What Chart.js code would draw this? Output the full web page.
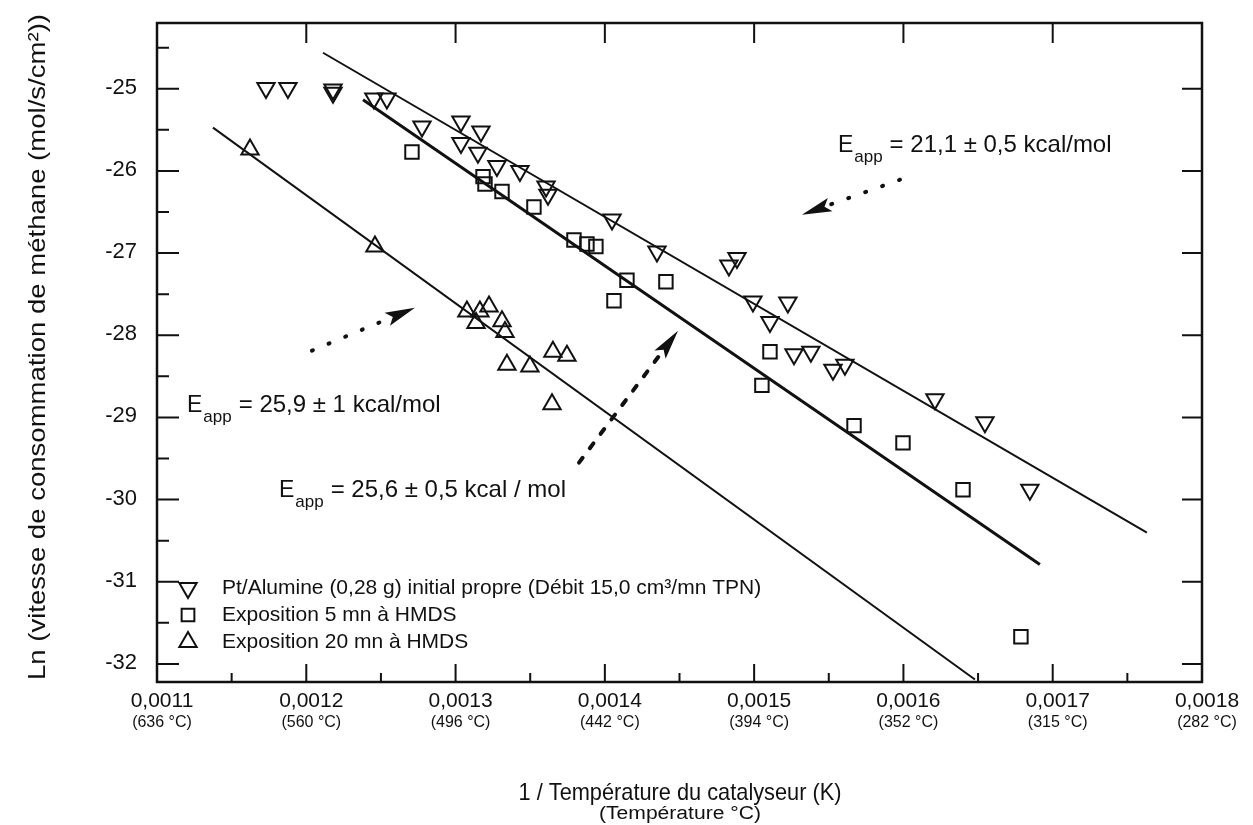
<!DOCTYPE html>
<html lang="fr">
<head>
    <meta charset="UTF-8">
    <title>Vitesse de consommation de méthane - Arrhenius</title>
    <script src="https://cdn.jsdelivr.net/npm/chart.js@4.4.0/dist/chart.umd.min.js"></script>
    <style>
        html, body { margin: 0; padding: 0; background: #fff; }
        #wrap { width: 1253px; height: 825px; }
    </style>
</head>
<body>
<div id="wrap"><canvas id="chart" width="1253" height="825"></canvas></div>
<script>
// Pt/Alumine initial propre (triangles pointe en bas)
const initX = [0.001173, 0.0011877, 0.0012179, 0.0012179, 0.0012453, 0.001254, 0.0012775, 0.0013036,
    0.001317, 0.0013036, 0.001315, 0.0013277, 0.0013431, 0.0013606, 0.0013619, 0.0014048, 0.0014349,
    0.0014831, 0.0014885, 0.0014992, 0.0015226, 0.0015106, 0.0015267, 0.001538, 0.0015528, 0.0015608,
    0.0016211, 0.0016546, 0.0016847];
const initY = [-24.99, -24.99, -25.01, -25.05, -25.12, -25.12, -25.46, -25.40,
    -25.52, -25.66, -25.78, -25.94, -26.00, -26.19, -26.29, -26.59, -26.98,
    -27.15, -27.06, -27.59, -27.60, -27.84, -28.23, -28.20, -28.42, -28.36,
    -28.78, -29.06, -29.88];

// Exposition 5 mn à HMDS (carrés)
const exp5X = [0.0012708, 0.0013184, 0.0013197, 0.0013311, 0.0013525, 0.0013793, 0.001388, 0.001394,
    0.0014148, 0.0014409, 0.0014061, 0.0015106, 0.0015052, 0.0015669, 0.0015997, 0.0016399, 0.0016787];
const exp5Y = [-25.77, -26.07, -26.16, -26.25, -26.44, -26.84, -26.89, -26.92,
    -27.33, -27.35, -27.58, -28.20, -28.61, -29.10, -29.31, -29.88, -31.67];

// Exposition 20 mn à HMDS (triangles pointe en haut)
const exp20X = [0.0011623, 0.001246, 0.0013076, 0.0013137, 0.0013163, 0.0013224, 0.0013311, 0.0013331,
    0.0013344, 0.0013498, 0.0013652, 0.0013746, 0.0013646];
const exp20Y = [-25.74, -26.92, -27.71, -27.85, -27.71, -27.65, -27.83, -27.96,
    -28.36, -28.38, -28.20, -28.25, -28.84];

// droites d'ajustement (extrémités)
const fitInitX = [0.0012112, 0.0017631];
const fitInitY = [-24.562, -30.401];
const fit5X = [0.001238, 0.0016914];
const fit5Y = [-25.134, -30.791];
const fit20X = [0.0011375, 0.0016479];
const fit20Y = [-25.474, -32.19];

// axes
const xTicks = [0.0011, 0.0012, 0.0013, 0.0014, 0.0015, 0.0016, 0.0017, 0.0018];
const xTickLabels = ['0,0011', '0,0012', '0,0013', '0,0014', '0,0015', '0,0016', '0,0017', '0,0018'];
const xTickTemps = ['(636 °C)', '(560 °C)', '(496 °C)', '(442 °C)', '(394 °C)', '(352 °C)', '(315 °C)', '(282 °C)'];
const yTicks = [-32, -31, -30, -29, -28, -27, -26, -25];
const yTickLabels = ['-32', '-31', '-30', '-29', '-28', '-27', '-26', '-25'];

const legendLabels = [
    'Pt/Alumine (0,28 g) initial propre (Débit 15,0 cm³/mn TPN)',
    'Exposition 5 mn à HMDS',
    'Exposition 20 mn à HMDS'
];

const pts = (xs, ys) => xs.map((x, i) => ({x: x, y: ys[i]}));
const FONT = '"Liberation Sans", Arial, Helvetica, sans-serif';
const INK = '#111';

function fitText(ctx, text, x, y, size, width, align) {
    ctx.save();
    ctx.font = size + 'px ' + FONT;
    const w = ctx.measureText(text).width;
    const sx = width ? width / w : 1;
    ctx.translate(x, y);
    ctx.scale(sx, 1);
    ctx.textAlign = align || 'left';
    ctx.fillText(text, 0, 0);
    ctx.restore();
}

function eapp(ctx, x, y, rest) {
    ctx.textAlign = 'left';
    ctx.textBaseline = 'alphabetic';
    ctx.font = '23px ' + FONT;
    ctx.fillText('E', x, y);
    let w = ctx.measureText('E').width;
    ctx.font = '17px ' + FONT;
    ctx.fillText('app', x + w + 1, y + 10);
    w += ctx.measureText('app').width + 8;
    ctx.font = '24px ' + FONT;
    ctx.fillText(rest, x + w, y);
}

function arrow(ctx, x0, y0, x1, y1, dash) {
    const ang = Math.atan2(y1 - y0, x1 - x0);
    const len = 30, half = 7;
    const bx = x1 - Math.cos(ang) * len, by = y1 - Math.sin(ang) * len;
    ctx.save();
    ctx.strokeStyle = INK;
    ctx.lineWidth = 4;
    ctx.lineCap = 'round';
    ctx.setLineDash(dash);
    ctx.beginPath();
    ctx.moveTo(x0, y0);
    ctx.lineTo(bx, by);
    ctx.stroke();
    ctx.setLineDash([]);
    ctx.fillStyle = INK;
    ctx.beginPath();
    ctx.moveTo(x1, y1);
    ctx.lineTo(bx + Math.sin(ang) * half, by - Math.cos(ang) * half);
    ctx.lineTo(bx + Math.cos(ang) * 6, by + Math.sin(ang) * 6);
    ctx.lineTo(bx - Math.sin(ang) * half, by + Math.cos(ang) * half);
    ctx.closePath();
    ctx.fill();
    ctx.restore();
}

const decor = {
    id: 'decor',
    afterDraw(chart) {
        const ctx = chart.ctx;
        const a = chart.chartArea;
        const sx = chart.scales.x, sy = chart.scales.y;
        const X = v => sx.getPixelForValue(v);
        const Y = v => sy.getPixelForValue(v);
        ctx.save();
        ctx.strokeStyle = INK;
        ctx.fillStyle = INK;

        // cadre
        ctx.lineWidth = 2.5;
        ctx.strokeRect(a.left, a.top, a.right - a.left, a.bottom - a.top);

        // graduations
        ctx.lineWidth = 2;
        ctx.beginPath();
        xTicks.forEach((v, i) => {
            const px = X(v);
            ctx.moveTo(px, a.bottom); ctx.lineTo(px, a.bottom - 18);
            if (i > 0 && i < xTicks.length - 1) { ctx.moveTo(px, a.top); ctx.lineTo(px, a.top + 20); }
            if (i < xTicks.length - 1) {
                const m = X(v + 0.00005);
                ctx.moveTo(m, a.bottom); ctx.lineTo(m, a.bottom - 9);
            }
        });
        yTicks.forEach(v => {
            const py = Y(v);
            ctx.moveTo(a.left, py); ctx.lineTo(a.left + 22, py);
            ctx.moveTo(a.right, py); ctx.lineTo(a.right - 20, py);
            const m = Y(v + 0.5);
            ctx.moveTo(a.left, m); ctx.lineTo(a.left + 12, m);
        });
        ctx.stroke();

        // étiquettes
        ctx.textBaseline = 'middle';
        ctx.textAlign = 'right';
        ctx.font = '22px ' + FONT;
        yTicks.forEach((v, i) => ctx.fillText(yTickLabels[i], a.left - 20, Y(v) - 1));
        ctx.textAlign = 'center';
        xTicks.forEach((v, i) => {
            ctx.font = '21px ' + FONT;
            ctx.fillText(xTickLabels[i], X(v) + 5, a.bottom + 19);
            ctx.font = '16px ' + FONT;
            ctx.fillText(xTickTemps[i], X(v) + 5, a.bottom + 41);
        });

        // titres
        fitText(ctx, '1 / Température du catalyseur (K)', 680, 793, 24, 323, 'center');
        fitText(ctx, '(Température °C)', 680, 814, 18, 162, 'center');
        ctx.save();
        ctx.translate(38, 347);
        ctx.rotate(-Math.PI / 2);
        fitText(ctx, 'Ln (vitesse de consommation de méthane (mol/s/cm²))', 0, 0, 24, 666, 'center');
        ctx.restore();

        // annotations
        eapp(ctx, X(0.0015561), Y(-25.766), '= 21,1 ± 0,5 kcal/mol');
        eapp(ctx, X(0.0011201), Y(-28.929), '= 25,9 ± 1 kcal/mol');
        eapp(ctx, X(0.0011817), Y(-29.964), '= 25,6 ± 0,5 kcal / mol');
        arrow(ctx, X(0.0015977), Y(-26.107), X(0.001532), Y(-26.533), [1, 17]);
        arrow(ctx, X(0.0012038), Y(-28.187), X(0.0012728), Y(-27.664), [1, 17]);
        arrow(ctx, X(0.0013827), Y(-29.55), X(0.001449), Y(-27.944), [6, 12]);

        // légende
        const styles = [
            {style: 'triangle', rot: 180, r: 10},
            {style: 'rect', rot: 0, r: 9},
            {style: 'triangle', rot: 0, r: 10}
        ];
        ctx.lineWidth = 2;
        legendLabels.forEach((t, i) => {
            const ly = a.top + 565 + i * 27;
            ctx.fillStyle = 'rgba(0,0,0,0)';
            Chart.helpers.drawPoint(ctx, {pointStyle: styles[i].style, rotation: styles[i].rot,
                radius: styles[i].r, borderWidth: 2}, a.left + 31, ly);
            ctx.fillStyle = INK;
            ctx.textAlign = 'left';
            ctx.textBaseline = 'middle';
            ctx.font = '21px ' + FONT;
            ctx.fillText(t, a.left + 65, ly);
        });
        ctx.restore();
    }
};

const markerBase = {
    backgroundColor: 'rgba(0,0,0,0)',
    borderColor: INK,
    pointBorderWidth: 2,
    showLine: false
};
const lineBase = {
    type: 'line',
    borderColor: INK,
    pointRadius: 0,
    fill: false,
    showLine: true
};

new Chart(document.getElementById('chart'), {
    type: 'scatter',
    data: {
        datasets: [
            Object.assign({label: 'fit initial', data: pts(fitInitX, fitInitY), borderWidth: 2}, lineBase),
            Object.assign({label: 'fit 5 mn', data: pts(fit5X, fit5Y), borderWidth: 3}, lineBase),
            Object.assign({label: 'fit 20 mn', data: pts(fit20X, fit20Y), borderWidth: 2}, lineBase),
            Object.assign({label: legendLabels[0], data: pts(initX, initY),
                pointStyle: 'triangle', rotation: 180, pointRadius: 10}, markerBase),
            Object.assign({label: legendLabels[1], data: pts(exp5X, exp5Y),
                pointStyle: 'rect', pointRadius: 9.5}, markerBase),
            Object.assign({label: legendLabels[2], data: pts(exp20X, exp20Y),
                pointStyle: 'triangle', pointRadius: 10}, markerBase)
        ]
    },
    options: {
        responsive: false,
        animation: false,
        devicePixelRatio: 1,
        layout: {padding: {left: 157, top: 23, right: 51, bottom: 143}},
        scales: {
            x: {type: 'linear', min: 0.0011, max: 0.0018, display: false},
            y: {type: 'linear', min: -32.22, max: -24.2, display: false}
        },
        plugins: {
            legend: {display: false},
            tooltip: {enabled: false}
        }
    },
    plugins: [decor]
});
</script>
</body>
</html>
